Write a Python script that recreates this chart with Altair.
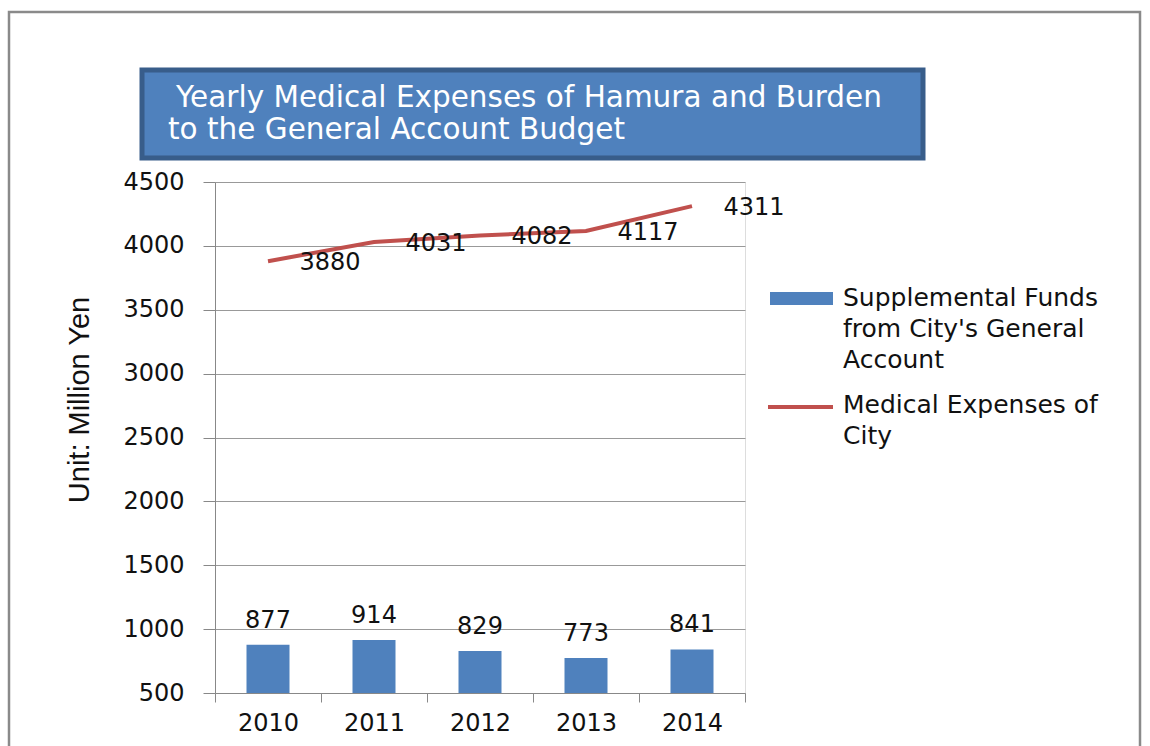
import altair as alt
import pandas as pd

years = ["2010", "2011", "2012", "2013", "2014"]
supplemental = [877, 914, 829, 773, 841]
medical = [3880, 4031, 4082, 4117, 4311]
title_lines = ["Yearly Medical Expenses of Hamura and Burden", "to the General Account Budget"]
legend_bar_lines = ["Supplemental Funds", "from City's General", "Account"]
legend_line_lines = ["Medical Expenses of", "City"]
y_title = "Unit:  Million Yen"

BLUE = "#4F81BD"
RED = "#C0504D"
FONT = "DejaVu Sans"
FS = 24

df = pd.DataFrame({"year": years, "supp": supplemental, "med": medical})

W, H = 530, 511
x_enc = alt.X("year:N", sort=years, title=None,
              scale=alt.Scale(paddingInner=0, paddingOuter=0),
              axis=alt.Axis(labelFontSize=FS, labelFont=FONT, labelColor="#111", labelAngle=0,
                            tickBand="extent", tickSize=9, tickColor="#888", domainColor="#888",
                            labelPadding=9, grid=False))
y_scale = alt.Scale(domain=[500, 4500], zero=False, nice=False)

base = alt.Chart(df)

bars = base.mark_bar(color=BLUE, size=43).encode(
    x=x_enc,
    y=alt.Y("supp:Q", scale=y_scale, title=None,
            axis=alt.Axis(values=list(range(500, 4501, 500)), format="d", labelFontSize=FS,
                          labelFont=FONT, labelColor="#111", tickSize=12, tickColor="#888",
                          domainColor="#888", gridColor="#999", labelPadding=19)),
    y2=alt.datum(500),
)
bar_labels = base.mark_text(fontSize=FS, font=FONT, color="#111", baseline="alphabetic", dy=-17).encode(
    x=alt.X("year:N", sort=years), y=alt.Y("supp:Q", scale=y_scale), text="supp:Q")

line = base.mark_line(color=RED, strokeWidth=4).encode(
    x=alt.X("year:N", sort=years), y=alt.Y("med:Q", scale=y_scale))
line_labels = base.mark_text(fontSize=FS, font=FONT, color="#111", baseline="middle", dx=62, dy=2).encode(
    x=alt.X("year:N", sort=years), y=alt.Y("med:Q", scale=y_scale), text="med:Q")

one = alt.Data(values=[{}])

border = alt.Chart(one).mark_rect(fill="transparent", stroke="#8a8a8a", strokeWidth=2.5).encode(
    x=alt.value(-206), x2=alt.value(925), y=alt.value(-170), y2=alt.value(600))

title_box = alt.Chart(one).mark_rect(fill=BLUE, stroke="#385D8A", strokeWidth=5).encode(
    x=alt.value(-73), x2=alt.value(708), y=alt.value(-112), y2=alt.value(-24))

title_1 = alt.Chart(one).mark_text(color="white", fontSize=29.5, font=FONT, align="left",
                                   baseline="middle").encode(
    x=alt.value(-39), y=alt.value(-84), text=alt.value(title_lines[0]))
title_2 = alt.Chart(one).mark_text(color="white", fontSize=29.5, font=FONT, align="left",
                                   baseline="middle").encode(
    x=alt.value(-47), y=alt.value(-52), text=alt.value(title_lines[1]))

y_title_text = alt.Chart(one).mark_text(color="#111", fontSize=29,
                                        font="Liberation Sans Narrow, Liberation Sans",
                                        align="center", baseline="middle", angle=270).encode(
    x=alt.value(-135), y=alt.value(218), text=alt.value(y_title))

leg_bar = alt.Chart(one).mark_rect(color=BLUE).encode(
    x=alt.value(555), x2=alt.value(618), y=alt.value(110), y2=alt.value(123))
leg_line = alt.Chart(one).mark_rule(color=RED, strokeWidth=4).encode(
    x=alt.value(553), x2=alt.value(618), y=alt.value(225))

leg_bar_text = alt.Chart(one).mark_text(fontSize=25, font=FONT, color="#111", align="left",
                                        baseline="middle", lineBreak="\n", lineHeight=31).encode(
    x=alt.value(628), y=alt.value(116), text=alt.value("\n".join(legend_bar_lines)))
leg_line_text = alt.Chart(one).mark_text(fontSize=25, font=FONT, color="#111", align="left",
                                         baseline="middle", lineBreak="\n", lineHeight=31).encode(
    x=alt.value(628), y=alt.value(223), text=alt.value("\n".join(legend_line_lines)))

chart = alt.layer(
    bars, line, bar_labels, line_labels,
    border, title_box, title_1, title_2, y_title_text, leg_bar, leg_line, leg_bar_text, leg_line_text
).properties(
    width=W, height=H,
    autosize=alt.AutoSizeParams(type="none"),
    padding={"left": 215, "top": 182, "right": 405, "bottom": 53},
).configure_view(stroke="transparent").configure(background="white")

chart.save("out.html", embed_options={"renderer": "svg", "actions": False})
